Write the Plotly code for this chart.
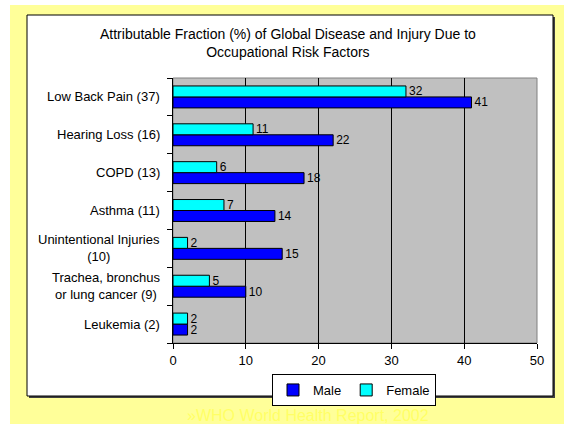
import plotly.graph_objects as go

# data
categories = [
    "Low Back Pain (37)",
    "Hearing Loss (16)",
    "COPD (13)",
    "Asthma (11)",
    "Unintentional Injuries<br>(10)",
    "Trachea, bronchus<br>or lung cancer (9)",
    "Leukemia (2)",
]
male = [41, 22, 18, 14, 15, 10, 2]
female = [32, 11, 6, 7, 2, 5, 2]
x_ticks = [0, 10, 20, 30, 40, 50]

W, H = 564, 424
L, R, T, B = 173, 537, 78, 343  # plot area in pixels


def px(x):
    return (x - L) / (R - L)


def py(y):
    return (B - y) / (B - T)


# bottom to top so that Male sits under Female in each group
cats = categories[::-1]
male_r = male[::-1]
female_r = female[::-1]

fig = go.Figure()
fig.add_trace(go.Bar(
    y=cats, x=male_r, name="Male", orientation="h",
    marker=dict(color="#0000FF", line=dict(color="black", width=1)),
    text=male_r, textposition="outside", constraintext="none",
    textfont=dict(family="Arial", size=12, color="black"),
    cliponaxis=False,
))
fig.add_trace(go.Bar(
    y=cats, x=female_r, name="Female", orientation="h",
    marker=dict(color="#00FFFF", line=dict(color="black", width=1)),
    text=female_r, textposition="outside", constraintext="none",
    textfont=dict(family="Arial", size=12, color="black"),
    cliponaxis=False,
))

shapes = [
    # yellow slide background
    dict(type="rect", xref="paper", yref="paper", x0=px(10), x1=px(W), y0=py(H), y1=py(5),
         fillcolor="#FFFF99", line=dict(width=0), layer="below"),
    # shadow of chart box
    dict(type="rect", xref="paper", yref="paper", x0=px(29), x1=px(555), y0=py(398), y1=py(17),
         fillcolor="#404040", line=dict(width=0), layer="below"),
    # white chart box
    dict(type="rect", xref="paper", yref="paper", x0=px(27), x1=px(553), y0=py(396), y1=py(15),
         fillcolor="white", line=dict(color="black", width=1), layer="below"),
    # gray plot area
    dict(type="rect", xref="paper", yref="paper", x0=0, x1=1, y0=0, y1=1,
         fillcolor="#C0C0C0", line=dict(color="#808080", width=1), layer="below"),
]

annotations = [
    dict(text="Attributable Fraction (%) of Global Disease and Injury Due to<br>Occupational Risk Factors",
         xref="paper", yref="paper", x=px(288), y=py(43), xanchor="center", yanchor="middle",
         showarrow=False, align="center", font=dict(family="Arial", size=14, color="black")),
    dict(text="»WHO World Health Report, 2002",
         xref="paper", yref="paper", x=px(308), y=py(415), xanchor="center", yanchor="middle",
         showarrow=False, font=dict(family="Arial", size=16, color="#FFFF66")),
]
for c in cats:
    annotations.append(dict(
        text=c, xref="paper", yref="y", x=px(162), y=c, xanchor="right", yanchor="middle",
        showarrow=False, align="center", font=dict(family="Arial", size=13, color="black"),
    ))

fig.update_layout(
    width=W, height=H,
    margin=dict(l=L, r=W - R, t=T, b=H - B),
    paper_bgcolor="white",
    plot_bgcolor="rgba(0,0,0,0)",
    barmode="group",
    bargap=0.42,
    bargroupgap=0,
    shapes=shapes,
    annotations=annotations,
    showlegend=True,
    legend=dict(
        orientation="h", x=px(354), y=py(374), xanchor="center", yanchor="top",
        bgcolor="white", bordercolor="black", borderwidth=1,
        font=dict(family="Arial", size=13, color="black"),
        itemwidth=30, traceorder="normal", tracegroupgap=0,
    ),
    xaxis=dict(
        range=[0, 50], tickvals=x_ticks, showgrid=True, gridcolor="black", gridwidth=1,
        zeroline=False, showline=True, linecolor="black", linewidth=1,
        ticks="outside", ticklen=5, tickcolor="black",
        tickfont=dict(family="Arial", size=13, color="black"), fixedrange=True,
    ),
    yaxis=dict(
        categoryorder="array", categoryarray=cats, showticklabels=False,
        showline=True, linecolor="black", linewidth=1, showgrid=False,
        ticks="outside", ticklen=5, tickcolor="black", tickson="boundaries",
        fixedrange=True,
    ),
)

# drop the page's default body margin so the figure starts at the window corner
fig.write_html("out.html", config={"displayModeBar": False},
               post_script="document.body.style.margin='0';")
